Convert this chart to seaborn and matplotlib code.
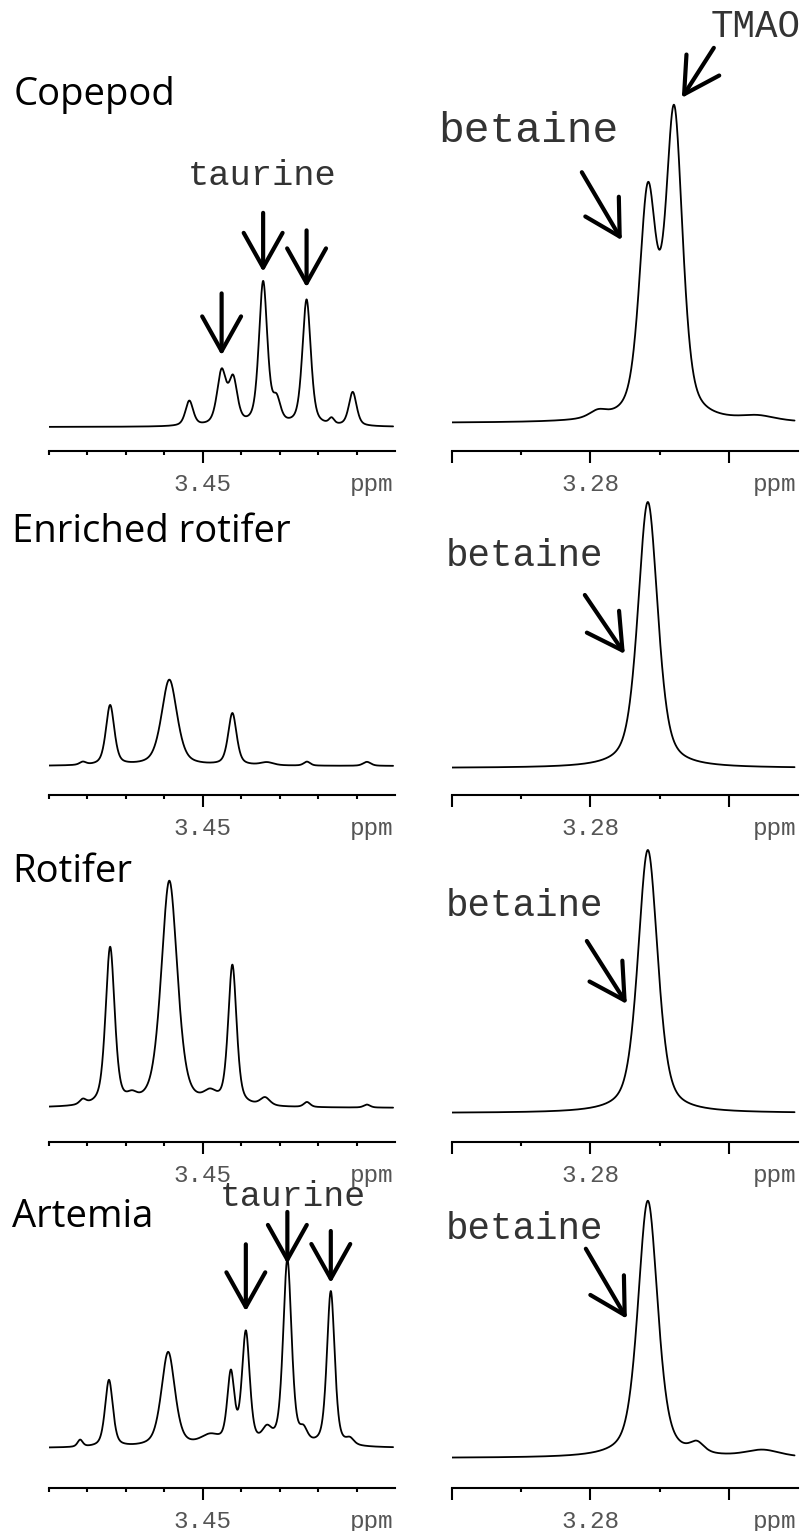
import numpy as np
import pandas as pd
import matplotlib
matplotlib.use("Agg")
import matplotlib.pyplot as plt
from matplotlib.transforms import offset_copy
import seaborn as sns

# ---------------------------------------------------------------------------
# Data: 1H NMR peaks (chemical shift in ppm, intensity in a.u., half width in ppm)
# ---------------------------------------------------------------------------
samples = ["Copepod", "Enriched rotifer", "Rotifer", "Artemia"]

# taurine region (3.49 - 3.40 ppm)
copepod_tau_ppm = [3.4535, 3.4451, 3.4421, 3.4343, 3.4308, 3.4230, 3.4165, 3.4110]
copepod_tau_int = [25, 53, 44, 143, 22, 126, 6, 34]
copepod_tau_hw = [0.0012, 0.0014, 0.0013, 0.0013, 0.0012, 0.0013, 0.0008, 0.0012]

enriched_tau_ppm = [3.4812, 3.4741, 3.4587, 3.4423, 3.4333, 3.4229, 3.4073]
enriched_tau_int = [3, 60, 86, 52, 3, 4, 4]
enriched_tau_hw = [0.0010, 0.0013, 0.0024, 0.0013, 0.0020, 0.0010, 0.0012]

rotifer_tau_ppm = [3.4812, 3.4741, 3.4684, 3.4587, 3.4481, 3.4423, 3.4338, 3.4229, 3.4073]
rotifer_tau_int = [5, 158, 6, 226, 10, 140, 8, 5, 3]
rotifer_tau_hw = [0.0010, 0.0014, 0.0015, 0.0025, 0.0020, 0.0013, 0.0015, 0.0010, 0.0010]

artemia_tau_ppm = [3.4819, 3.4744, 3.4590, 3.4481, 3.4427, 3.4388, 3.4333,
                   3.4280, 3.4238, 3.4167, 3.4117]
artemia_tau_int = [7, 67, 95, 10, 70, 112, 14, 186, 12, 155, 6]
artemia_tau_hw = [0.0008, 0.0012, 0.0021, 0.0030, 0.0011, 0.0012, 0.0015,
                  0.0013, 0.0012, 0.0012, 0.0012]

# betaine / TMAO region (3.30 - 3.25 ppm)
copepod_bet_ppm = [3.2789, 3.2717, 3.2679, 3.2558]
copepod_bet_int = [7, 220, 303, 5]
copepod_bet_hw = [0.0015, 0.00145, 0.00145, 0.0030]

enriched_bet_ppm = [3.2717]
enriched_bet_int = [266]
enriched_bet_hw = [0.0017]

rotifer_bet_ppm = [3.2717]
rotifer_bet_int = [263]
rotifer_bet_hw = [0.0017]

artemia_bet_ppm = [3.2717, 3.2646, 3.2551]
artemia_bet_int = [257, 10, 7]
artemia_bet_hw = [0.0017, 0.0012, 0.0030]

tau_peaks = [
    (copepod_tau_ppm, copepod_tau_int, copepod_tau_hw),
    (enriched_tau_ppm, enriched_tau_int, enriched_tau_hw),
    (rotifer_tau_ppm, rotifer_tau_int, rotifer_tau_hw),
    (artemia_tau_ppm, artemia_tau_int, artemia_tau_hw),
]
bet_peaks = [
    (copepod_bet_ppm, copepod_bet_int, copepod_bet_hw),
    (enriched_bet_ppm, enriched_bet_int, enriched_bet_hw),
    (rotifer_bet_ppm, rotifer_bet_int, rotifer_bet_hw),
    (artemia_bet_ppm, artemia_bet_int, artemia_bet_hw),
]

tau_range = (3.49, 3.40)
bet_range = (3.30, 3.25)
tau_major, tau_major_labels = [3.45], ["3.45"]
tau_minor = [3.49, 3.48, 3.47, 3.46, 3.44, 3.43, 3.42, 3.41]
bet_major, bet_major_labels = [3.30, 3.28, 3.26], ["", "3.28", ""]
bet_minor = [3.29, 3.27]


def spectrum(ppm, centers, heights, widths, eta=0.5):
    """Sum of pseudo-Voigt lines."""
    ppm = np.asarray(ppm, dtype=float)
    y = np.zeros_like(ppm)
    for c, h, w in zip(centers, heights, widths):
        r = ((ppm - c) / w) ** 2
        y += h * (eta / (1.0 + r) + (1.0 - eta) * np.exp(-np.log(2.0) * r))
    return y


# ---------------------------------------------------------------------------
# Figure
# ---------------------------------------------------------------------------
sns.set_style("white")
plt.rcParams["font.family"] = ["Liberation Mono", "DejaVu Sans"]

W, H = 803, 1531
fig = plt.figure(figsize=(W / 100, H / 100), dpi=100)

axis_y = [451, 795, 1142, 1488]           # vertical position of each ppm scale
ax_height = [420, 330, 330, 330]
base_tau = [24, 29, 34, 40]               # baseline lift above the scale
base_bet = [28, 27, 29, 30]
col_x = [(49, 395), (452, 798)]

label_color = "#555555"
note_color = "#333333"
mono = ["Liberation Mono", "DejaVu Sans"]


def make_axes(col, row):
    x0, x1 = col_x[col]
    hp = ax_height[row]
    ax = fig.add_axes([x0 / W, 1 - axis_y[row] / H, (x1 - x0) / W, hp / H])
    ax.patch.set_visible(False)
    return ax, hp


def style_axes(ax, hp, base, xr, major, major_labels, minor):
    ax.set_xlim(*xr)
    ax.set_ylim(-base, hp - base)
    for s in ("left", "right", "top"):
        ax.spines[s].set_visible(False)
    ax.spines["bottom"].set_linewidth(1.5)
    ax.spines["bottom"].set_color("black")
    ax.set_yticks([])
    ax.set_xticks(major)
    ax.set_xticklabels(major_labels)
    ax.set_xticks(minor, minor=True)
    ax.tick_params(axis="x", which="both", bottom=True, top=False)
    ax.tick_params(axis="x", which="major", direction="out", length=8.6, width=1.5,
                   color="black", labelsize=17.5, labelcolor=label_color, pad=7)
    ax.tick_params(axis="x", which="minor", direction="out", length=2.9, width=1.5,
                   color="black")
    ax.set_xlabel("")
    ax.set_ylabel("")
    ax.annotate("ppm", xy=(1, 0), xycoords="axes fraction",
                xytext=(-1, -(8.6 + 7)), textcoords="offset points",
                ha="right", va="top", fontsize=17.5, color=label_color,
                family=mono, annotation_clip=False)


def arrow(ax, peaks, idx, tip_off, tail_off):
    """Open-headed arrow whose tip sits tip_off pixels from the top of a peak."""
    c, h, w = peaks
    xy = (c[idx], spectrum([c[idx]], c, h, w)[0])
    tr = offset_copy(ax.transData, fig=fig, x=tip_off[0], y=tip_off[1], units="dots")
    ax.annotate("", xy=xy, xycoords=tr, xytext=tail_off, textcoords="offset pixels",
                annotation_clip=False,
                arrowprops=dict(arrowstyle="->,head_length=25,head_width=14",
                                mutation_scale=1, lw=3, color="black",
                                shrinkA=0, shrinkB=0))


tau_axes, bet_axes = [], []
for row in range(4):
    # taurine region
    ax, hp = make_axes(0, row)
    ppm = np.linspace(tau_range[0], 3.4005, 1400)
    c, h, w = tau_peaks[row]
    df = pd.DataFrame({"ppm": ppm, "intensity": spectrum(ppm, c, h, w)})
    sns.lineplot(data=df, x="ppm", y="intensity", ax=ax, color="black",
                 linewidth=1.3, estimator=None, sort=False)
    style_axes(ax, hp, base_tau[row], tau_range, tau_major, tau_major_labels, tau_minor)
    tau_axes.append(ax)

    # betaine region
    ax, hp = make_axes(1, row)
    ppm = np.linspace(bet_range[0], 3.2505, 1400)
    c, h, w = bet_peaks[row]
    df = pd.DataFrame({"ppm": ppm, "intensity": spectrum(ppm, c, h, w)})
    sns.lineplot(data=df, x="ppm", y="intensity", ax=ax, color="black",
                 linewidth=1.3, estimator=None, sort=False)
    style_axes(ax, hp, base_bet[row], bet_range, bet_major, bet_major_labels, bet_minor)
    bet_axes.append(ax)

# sample names
title_pos = [(14, 105), (12, 542), (12, 882), (12, 1227)]
for name, (x, y) in zip(samples, title_pos):
    fig.text(x / W, 1 - y / H, name, ha="left", va="baseline",
             fontsize=27.5, family=["Open Sans", "DejaVu Sans"], color="black")

# compound labels
notes = [
    ("taurine", 188, 185, 25.5),
    ("TMAO", 711, 37, 27),
    ("betaine", 438, 142, 31),
    ("betaine", 446, 566, 27),
    ("betaine", 446, 916, 27),
    ("betaine", 446, 1239, 27),
    ("taurine", 220, 1206, 25),
]
for text, x, y, size in notes:
    fig.text(x / W, 1 - y / H, text, ha="left", va="baseline", fontsize=size,
             family=mono, color=note_color)

# taurine triplet arrows (Copepod, Artemia)
for idx, gap, tail in [(1, 13, 62), (3, 9, 59), (5, 12, 57)]:
    arrow(tau_axes[0], tau_peaks[0], idx, (0, gap), (0, tail))
for idx, gap, tail in [(5, 19, 67), (7, -5, 52), (9, 8, 52)]:
    arrow(tau_axes[3], tau_peaks[3], idx, (0, gap), (0, tail))

# betaine / TMAO arrows
arrow(bet_axes[0], bet_peaks[0], 2, (7.7, 7), (32, 50))
arrow(bet_axes[0], bet_peaks[0], 1, (-26, -58), (-40, 68))
arrow(bet_axes[1], bet_peaks[1], 0, (-23, -152), (-40, 59))
arrow(bet_axes[2], bet_peaks[2], 0, (-21, -154), (-40, 63))
arrow(bet_axes[3], bet_peaks[3], 0, (-21, -118), (-41, 70))

fig.savefig("out.png", dpi=100, facecolor="white")
